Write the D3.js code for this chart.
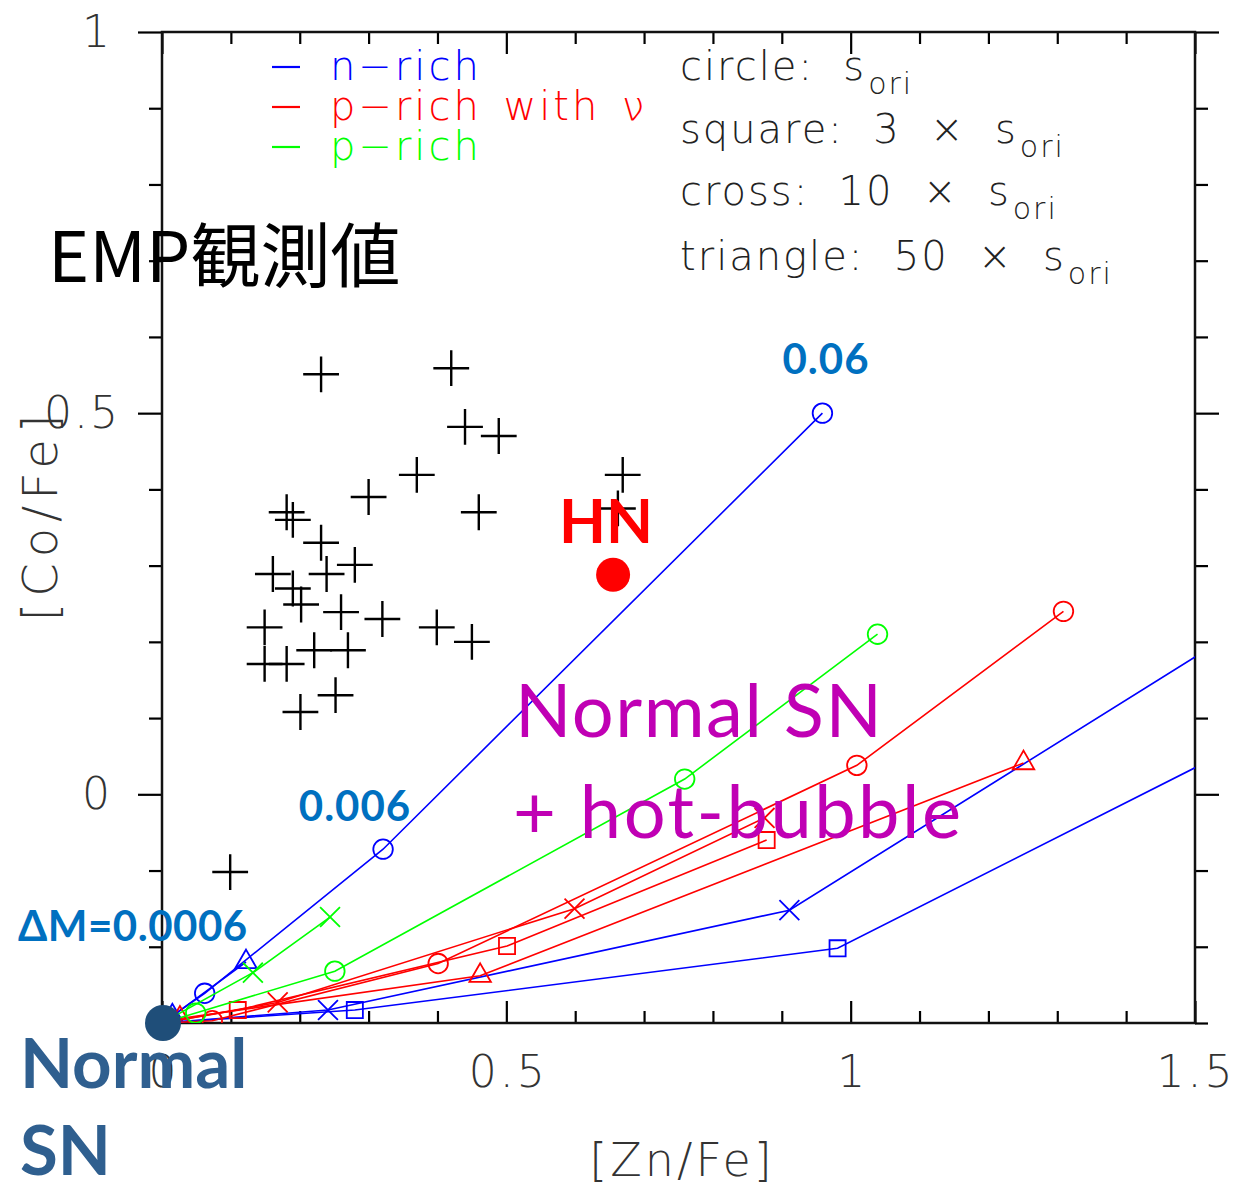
<!DOCTYPE html>
<html lang="en">
<head>
  <meta charset="UTF-8">
  <title>[Co/Fe] vs [Zn/Fe]</title>
  <style>
    body { margin: 0; background: #fff; }
    svg { display: block; }
    .tick-label { font-family: "DejaVu Sans", sans-serif; font-weight: 200; fill: #333; }
    .legend { font-family: "DejaVu Sans", sans-serif; font-weight: 200; }
    .note { font-family: Lato, "Open Sans", sans-serif; }
  </style>
  <script src="https://d3js.org/d3.v7.min.js"></script>
</head>
<body>
  <svg width="1235" height="1191"></svg>
  <script>
    // observed EMP stars ([Zn/Fe], [Co/Fe])
    const obsZn = [0.231, 0.420, 0.440, 0.489, 0.370, 0.300, 0.181, 0.190, 0.460, 0.231,
                   0.161, 0.239, 0.280, 0.190, 0.202, 0.260, 0.320, 0.149, 0.399, 0.450,
                   0.221, 0.270, 0.149, 0.181, 0.252, 0.201, 0.099, 0.669, 0.662];
    const obsCo = [0.551, 0.559, 0.482, 0.470, 0.419, 0.390, 0.370, 0.360, 0.370, 0.330,
                   0.289, 0.289, 0.301, 0.270, 0.249, 0.239, 0.230, 0.219, 0.219, 0.200,
                   0.189, 0.189, 0.171, 0.171, 0.130, 0.108, -0.102, 0.419, 0.375];

    // model tracks, starting from the normal SN point
    const normalSN = [0, -0.3];
    const hnPoint = [0.655, 0.288];

    const nRichCircle   = [[0.062, -0.261], [0.321, -0.072], [0.959, 0.500]];
    const nRichTriangle = [[0.015, -0.291], [0.122, -0.220]];
    const nRichCross    = [[0.241, -0.283], [0.911, -0.152], [2.0, 0.462]];
    const nRichSquare   = [[0.280, -0.283], [0.981, -0.202], [2.0, 0.263]];

    const pNuCircle   = [[0.073, -0.297], [0.401, -0.222], [1.009, 0.038], [1.309, 0.240]];
    const pNuSquare   = [[0.110, -0.283], [0.501, -0.199], [0.878, -0.060]];
    const pNuCross    = [[0.168, -0.273], [0.599, -0.150], [0.875, -0.031]];
    const pNuTriangle = [[0.026, -0.294], [0.462, -0.238], [1.251, 0.041]];

    const pCircle = [[0.049, -0.287], [0.251, -0.232], [0.759, 0.020], [1.039, 0.210]];
    const pCross  = [[0.132, -0.234], [0.244, -0.161]];

    const xTicks = [0, 0.5, 1, 1.5];
    const yTicks = [0, 0.5, 1];
    const legendItems = ["n\u2212rich", "p\u2212rich with \u03bd", "p\u2212rich"];
    const entropyNotes = ["circle:  s", "square:  3  \u00d7  s", "cross:  10  \u00d7  s", "triangle:  50  \u00d7  s"];

    const blue = "#0000ff", red = "#ff0000", green = "#00ff00";

    const tracks = [
      {pts: nRichCircle, color: blue, shape: "circle"},
      {pts: nRichTriangle, color: blue, shape: "triangle"},
      {pts: nRichCross, color: blue, shape: "cross"},
      {pts: nRichSquare, color: blue, shape: "square"},
      {pts: pNuCircle, color: red, shape: "circle"},
      {pts: pNuSquare, color: red, shape: "square"},
      {pts: pNuCross, color: red, shape: "cross"},
      {pts: pNuTriangle, color: red, shape: "triangle"},
      {pts: pCircle, color: green, shape: "circle"},
      {pts: pCross, color: green, shape: "cross"}
    ];

    const plotL = 162, plotR = 1195, plotT = 32, plotB = 1023;

    const x = d3.scaleLinear().domain([0, 1.5]).range([plotL, plotR]);
    const y = d3.scaleLinear().domain([-0.3, 1]).range([plotB, plotT]);

    const svg = d3.select("svg");

    svg.append("defs").append("clipPath").attr("id", "plot")
      .append("rect").attr("x", plotL).attr("y", plotT)
      .attr("width", plotR - plotL).attr("height", plotB - plotT);

    // axes: x ticks point inward, y ticks point outward
    const minorX = d3.range(0, 1.501, 0.1);
    const minorY = d3.range(-0.3, 1.001, 0.1);
    const isMajor = d => Math.abs(d * 2 - Math.round(d * 2)) < 1e-6;

    svg.append("g").attr("transform", `translate(0,${plotB})`)
      .call(d3.axisTop(x).tickValues(minorX).tickSize(12).tickFormat(""))
      .call(g => g.selectAll(".tick line").attr("stroke-width", 2.2).filter(isMajor).attr("y2", -22));
    svg.append("g").attr("transform", `translate(0,${plotT})`)
      .call(d3.axisBottom(x).tickValues(minorX).tickSize(12).tickFormat(""))
      .call(g => g.selectAll(".tick line").attr("stroke-width", 2.2).filter(isMajor).attr("y2", 22));
    svg.append("g").attr("transform", `translate(${plotL},0)`)
      .call(d3.axisLeft(y).tickValues(minorY).tickSize(13).tickFormat(""))
      .call(g => g.selectAll(".tick line").attr("stroke-width", 2.2).filter(isMajor).attr("x2", -24));
    svg.append("g").attr("transform", `translate(${plotR},0)`)
      .call(d3.axisRight(y).tickValues(minorY).tickSize(13).tickFormat(""))
      .call(g => g.selectAll(".tick line").attr("stroke-width", 2.2).filter(isMajor).attr("x2", 24));
    svg.selectAll(".domain").remove();
    svg.append("rect").attr("x", plotL).attr("y", plotT)
      .attr("width", plotR - plotL).attr("height", plotB - plotT)
      .attr("fill", "none").attr("stroke", "#111").attr("stroke-width", 2.5);

    svg.append("g").selectAll("text").data(xTicks).join("text")
      .attr("class", "tick-label").attr("font-size", 44).attr("letter-spacing", 3)
      .attr("x", d => Math.min(x(d) + 2, 1196)).attr("y", 1087).attr("text-anchor", "middle")
      .text(d => d);
    svg.append("g").selectAll("text").data(yTicks).join("text")
      .attr("class", "tick-label").attr("font-size", 44).attr("letter-spacing", 2)
      .attr("x", d => d === 0.5 ? 120 : 112).attr("y", d => y(d) + 15).attr("text-anchor", "end")
      .text(d => d);

    svg.append("text").attr("class", "tick-label").attr("font-size", 46).attr("letter-spacing", 3)
      .attr("x", 682).attr("y", 1176).attr("text-anchor", "middle").text("[Zn/Fe]");
    svg.append("text").attr("class", "tick-label").attr("font-size", 48).attr("letter-spacing", 6)
      .attr("transform", "translate(57,515) rotate(-90)")
      .attr("text-anchor", "middle").text("[Co/Fe]");

    // observations
    svg.append("g").selectAll("path").data(obsZn).join("path")
      .attr("transform", (d, i) => `translate(${x(d)},${y(obsCo[i])})`)
      .attr("d", d3.symbol(d3.symbolPlus, 420))
      .attr("fill", "none").attr("stroke", "#000").attr("stroke-width", 2.4);

    // model tracks
    const shapes = {
      circle: d3.symbol(d3.symbolCircle, 300),
      square: d3.symbol(d3.symbolSquare2, 330),
      cross: d3.symbol(d3.symbolTimes, 260),
      triangle: d3.symbol(d3.symbolTriangle2, 330)
    };
    const line = d3.line().x(d => x(d[0])).y(d => y(d[1]));
    const trackG = svg.append("g").attr("clip-path", "url(#plot)");
    tracks.forEach(t => {
      const pts = [normalSN].concat(t.pts);
      trackG.append("path").attr("d", line(pts))
        .attr("fill", "none").attr("stroke", t.color).attr("stroke-width", 1.6);
      trackG.append("g").selectAll("path").data(t.pts).join("path")
        .attr("transform", d => `translate(${x(d[0])},${y(d[1])})`)
        .attr("d", shapes[t.shape])
        .attr("fill", "none").attr("stroke", t.color).attr("stroke-width", 1.8);
    });

    // legend
    const legendColors = [blue, red, green];
    const lg = svg.append("g").attr("class", "legend");
    legendItems.forEach((s, i) => {
      const yy = 80 + i * 40;
      lg.append("line").attr("x1", 272).attr("x2", 300).attr("y1", yy - 13).attr("y2", yy - 13)
        .attr("stroke", legendColors[i]).attr("stroke-width", 2.2);
      lg.append("text").attr("x", 330).attr("y", yy).attr("font-size", 40)
        .attr("letter-spacing", 3).attr("word-spacing", 6)
        .attr("fill", legendColors[i]).style("white-space", "pre").text(s);
    });
    entropyNotes.forEach((n, i) => {
      const t = lg.append("text").attr("x", 680).attr("y", [80, 143, 205, 270][i])
        .attr("font-size", 40).attr("letter-spacing", 2).attr("fill", "#222").style("white-space", "pre");
      t.append("tspan").text(n);
      t.append("tspan").attr("dx", 2).attr("dy", 14).attr("font-size", 30).text("ori");
    });

    // annotations
    const note = svg.append("g").attr("class", "note");
    note.append("text").attr("x", 48).attr("y", 282).attr("font-size", 70)
      .attr("font-family", "'Noto Sans CJK JP', sans-serif").attr("fill", "#000").text("EMP観測値");
    note.append("text").attr("x", 826).attr("y", 374).attr("text-anchor", "middle")
      .attr("font-size", 42).attr("letter-spacing", 1).attr("font-weight", 700).attr("fill", "#0070c0").text("0.06");
    note.append("text").attr("x", 355).attr("y", 821).attr("text-anchor", "middle")
      .attr("font-size", 42).attr("letter-spacing", 1).attr("font-weight", 700).attr("fill", "#0070c0").text("0.006");
    note.append("text").attr("x", 18).attr("y", 941)
      .attr("font-size", 42).attr("letter-spacing", 0.5).attr("font-weight", 700).attr("fill", "#0070c0").text("\u0394M=0.0006");

    svg.append("circle").attr("cx", x(hnPoint[0])).attr("cy", y(hnPoint[1])).attr("r", 17).attr("fill", "#ff0000");
    note.append("text").attr("x", 606).attr("y", 543).attr("text-anchor", "middle")
      .attr("font-size", 61).attr("font-weight", 700).attr("fill", "#ff0000").text("HN");

    note.append("text").attr("x", 515).attr("y", 737).attr("font-size", 74).attr("letter-spacing", 1.5)
      .attr("fill", "#c000b4").text("Normal SN");
    note.append("text").attr("x", 513).attr("y", 838).attr("font-size", 74).attr("letter-spacing", 2.5)
      .attr("fill", "#c000b4").style("white-space", "pre").text("+ hot-bubble");

    svg.append("circle").attr("cx", x(normalSN[0]) + 1).attr("cy", y(normalSN[1])).attr("r", 18).attr("fill", "#1f4e79");
    note.append("text").attr("x", 20).attr("y", 1088).attr("font-size", 69)
      .attr("font-weight", 700).attr("fill", "#2f5f8f").text("Normal");
    note.append("text").attr("x", 20).attr("y", 1175).attr("font-size", 69)
      .attr("font-weight", 700).attr("fill", "#2f5f8f").text("SN");
  </script>
</body>
</html>
